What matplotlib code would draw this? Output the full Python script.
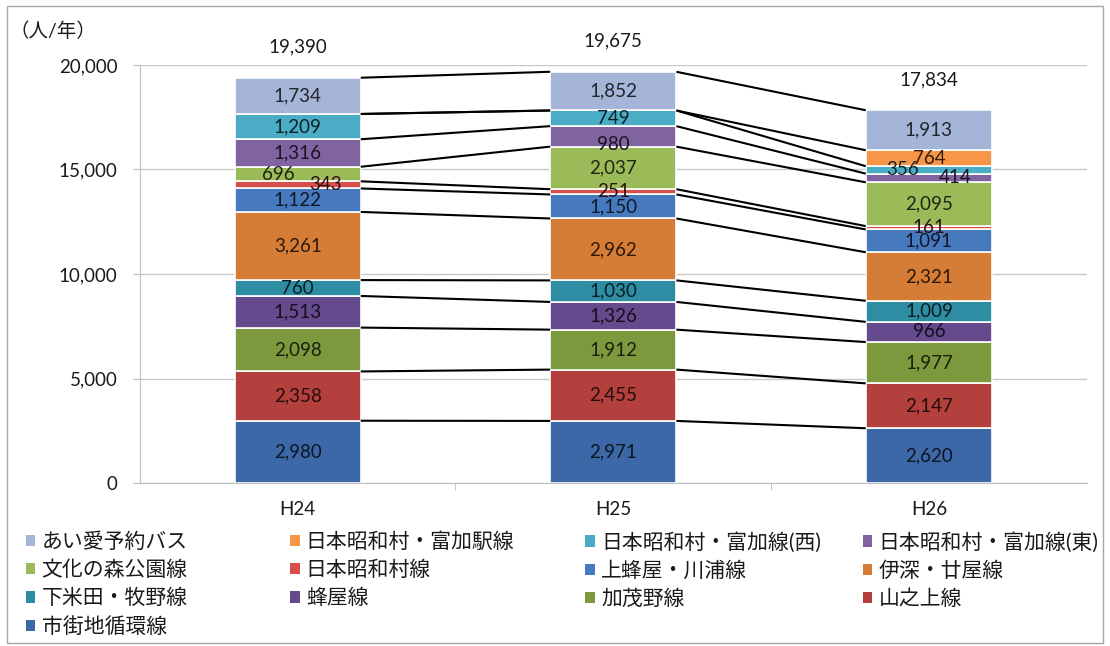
import matplotlib
matplotlib.use("Agg")
import matplotlib.pyplot as plt
from matplotlib.patches import Patch, Rectangle
import numpy as np

plt.rcParams['font.family'] = ['Lato', 'Noto Sans CJK JP', 'DejaVu Sans']

years = ["H24", "H25", "H26"]

# stacking order, bottom to top
routes = ["市街地循環線", "山之上線", "加茂野線", "蜂屋線", "下米田・牧野線", "伊深・廿屋線",
          "上蜂屋・川浦線", "日本昭和村線", "文化の森公園線", "日本昭和村・富加線(東)",
          "日本昭和村・富加線(西)", "日本昭和村・富加駅線", "あい愛予約バス"]

shigai = [2980, 2971, 2620]
yamanoue = [2358, 2455, 2147]
kamono = [2098, 1912, 1977]
hachiya = [1513, 1326, 966]
shimoyoneda = [760, 1030, 1009]
ibuka = [3261, 2962, 2321]
kamihachiya = [1122, 1150, 1091]
showamura = [343, 251, 161]
bunka = [696, 2037, 2095]
tomika_east = [1316, 980, 414]
tomika_west = [1209, 749, 356]
tomika_eki = [0, 0, 764]
aiai = [1734, 1852, 1913]

values = [shigai, yamanoue, kamono, hachiya, shimoyoneda, ibuka, kamihachiya,
          showamura, bunka, tomika_east, tomika_west, tomika_eki, aiai]

colors = ["#3d68a8", "#b3403d", "#7d993e", "#654a8e", "#2f8da3", "#d57c36",
          "#4779bf", "#d64f4b", "#9bbb59", "#8064a2", "#4bacc6", "#f79646", "#a5b5d8"]

# small nudges (points) for labels that would overlap
label_shift = {(8, 0): (-14, 0), (7, 0): (20, 0), (9, 1): (0, -6),
               (10, 2): (-19, 0), (9, 2): (19, 0)}

fig = plt.figure(figsize=(11.1, 6.46), dpi=100)
ax = fig.add_axes([0.126, 0.2523, 0.853, 0.6471])

x = np.arange(len(years))
width = 0.4
data = np.array(values, dtype=float)
bottoms = np.zeros(len(years))
tops = []
for i, (name, vals, c) in enumerate(zip(routes, data, colors)):
    ax.bar(x, vals, width=width, bottom=bottoms, color=c, edgecolor="white",
           linewidth=1.2, label=name, zorder=3)
    dark = tuple(0.2 * v for v in matplotlib.colors.to_rgb(c))
    for j in range(len(years)):
        if vals[j] <= 0:
            continue
        dx, dy = label_shift.get((i, j), (0, 0))
        ax.annotate(f"{int(vals[j]):,}", (x[j], bottoms[j] + vals[j] / 2),
                    xytext=(dx, dy), textcoords="offset points",
                    ha="center", va="center", fontsize=13.5, color=dark, zorder=5)
    bottoms = bottoms + vals
    tops.append(bottoms.copy())

# series lines between neighbouring bars
for top in tops:
    for j in range(len(years) - 1):
        ax.plot([x[j] + width / 2, x[j + 1] - width / 2], [top[j], top[j + 1]],
                color="black", linewidth=1.5, zorder=4, solid_capstyle="butt")

totals = data.sum(axis=0)
for j, t in enumerate(totals):
    ax.annotate(f"{int(t):,}", (x[j], t), xytext=(0, 22), textcoords="offset points",
                ha="center", va="center", fontsize=13.5, color="#1a1a1a")

ax.set_xlim(-0.5, 2.5)
ax.set_ylim(0, 20000)
ax.set_yticks(np.arange(0, 20001, 5000))
ax.set_yticklabels([f"{v:,}" for v in range(0, 20001, 5000)])
ax.set_xticks(x)
ax.set_xticklabels(years)
ax.set_xticks([0.5, 1.5], minor=True)
ax.tick_params(axis="x", which="major", length=0, pad=13, labelsize=13.5, labelcolor="#1a1a1a")
ax.tick_params(axis="x", which="minor", length=5, color="#bfbfbf")
ax.tick_params(axis="y", length=5, color="#bfbfbf", pad=11, labelsize=13.5, labelcolor="#1a1a1a")
ax.grid(axis="y", color="#c8c8c8", linewidth=1, zorder=0)
for s in ["top", "right"]:
    ax.spines[s].set_visible(False)
for s in ["left", "bottom"]:
    ax.spines[s].set_color("#bfbfbf")

fig.text(0.009, 0.953, "（人/年）", fontsize=14, color="#1a1a1a", ha="left", va="center")

# legend laid out in four columns, filled row by row from the top series down
handles = [Patch(facecolor=c, label=n) for n, c in zip(routes, colors)][::-1]
col_x = [0.014, 0.252, 0.518, 0.768]
for k in range(4):
    col = handles[k::4]
    fig.legend(handles=col, loc="upper left", bbox_to_anchor=(col_x[k], 0.193),
               ncol=1, frameon=False, fontsize=15, handlelength=0.45,
               handleheight=0.45, handletextpad=0.3, labelspacing=0.4,
               borderpad=0, labelcolor="#1a1a1a")

fig.patches.append(Rectangle((0.006, 0.005), 0.988, 0.985, transform=fig.transFigure,
                             fill=False, edgecolor="#a6a6a6", linewidth=1))

fig.savefig("out.png", dpi=100)
